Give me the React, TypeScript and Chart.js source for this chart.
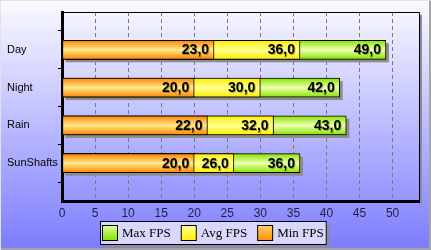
import React, { useEffect, useRef } from 'react';
import { Chart, registerables } from 'chart.js';

Chart.register(...registerables);

const categories = ['Day', 'Night', 'Rain', 'SunShafts'];
const maxFps = [49, 42, 43, 36];
const avgFps = [36, 30, 32, 26];
const minFps = [23, 20, 22, 20];
const seriesNames = ['Max FPS', 'Avg FPS', 'Min FPS'];
const xMin = 0;
const xMax = 54;
const xStep = 5;

const BAR = 19;

const barStops: [number, string][][] = [
  [[0, '#86e400'], [0.5, '#eeffb0'], [1, '#86e400']],
  [[0, '#ffee00'], [0.5, '#ffff90'], [1, '#ffee00']],
  [[0, '#ff8400'], [0.5, '#ffe98a'], [1, '#ff8400']],
];
const legendStops: [number, string][][] = [
  [[0, '#e4ff9a'], [1, '#7ee000']],
  [[0, '#ffff9a'], [1, '#ffee00']],
  [[0, '#ffd070'], [1, '#ff8c00']],
];

function fillFor(i: number) {
  return (c: any) => {
    const chart = c.chart;
    const ys = chart.scales && chart.scales.y;
    if (c.type !== 'data' || !ys) return barStops[i][1][1];
    const y = ys.getPixelForValue(c.dataIndex);
    if (!isFinite(y)) return barStops[i][1][1];
    const g = chart.ctx.createLinearGradient(0, y - BAR / 2, 0, y + BAR / 2);
    barStops[i].forEach(([o, col]) => g.addColorStop(o, col));
    return g;
  };
}

const fmt = (v: number) => v.toFixed(1).replace('.', ',');

const decorPlugin = {
  id: 'decor',
  beforeDatasetsDraw(chart: any) {
    const ctx = chart.ctx;
    const meta = chart.getDatasetMeta(0);
    ctx.save();
    ctx.fillStyle = '#8c8c8c';
    meta.data.forEach((el: any) => {
      if (!isFinite(el.x) || !isFinite(el.y)) return;
      ctx.fillRect(el.base + 3, el.y - el.height / 2 + 3, el.x - el.base, el.height);
    });
    ctx.restore();
  },
  afterDatasetsDraw(chart: any) {
    const ctx = chart.ctx;
    ctx.save();
    ctx.font = 'bold 14px "Liberation Sans", Arial, sans-serif';
    ctx.textAlign = 'right';
    ctx.textBaseline = 'middle';
    chart.data.datasets.forEach((ds: any, di: number) => {
      const meta = chart.getDatasetMeta(di);
      meta.data.forEach((el: any, idx: number) => {
        const v = ds.data[idx];
        if (v == null || !isFinite(el.x)) return;
        ctx.fillStyle = 'rgba(0,0,0,0.3)';
        ctx.fillText(fmt(v), el.x - 4, el.y + 1.5);
        ctx.fillStyle = '#000';
        ctx.fillText(fmt(v), el.x - 5, el.y + 0.5);
      });
    });
    ctx.restore();
  },
  afterDraw(chart: any) {
    const ctx = chart.ctx;
    const a = chart.chartArea;
    ctx.save();
    ctx.fillStyle = '#8a8a9a';
    ctx.fillRect(a.right + 1, a.top + 3, 2, a.bottom - a.top);
    ctx.strokeStyle = '#000';
    ctx.lineWidth = 1;
    ctx.beginPath();
    ctx.moveTo(a.left, a.top + 0.5);
    ctx.lineTo(a.right + 0.5, a.top + 0.5);
    ctx.lineTo(a.right + 0.5, a.bottom);
    ctx.stroke();

    // legend
    ctx.font = '13px "Liberation Serif", "Times New Roman", serif';
    const box = 16;
    const gapBoxText = 4;
    const gapItem = 10;
    const widths = seriesNames.map((n) => ctx.measureText(n).width);
    const total = widths.reduce((s, w) => s + box + gapBoxText + w, 0) + gapItem * (seriesNames.length - 1) + 5;
    const lx = Math.round(213 - total / 2);
    const ly = 221;
    const lh = 24;
    ctx.fillStyle = '#8a8aa6';
    ctx.fillRect(lx + 3, ly + 3, total, lh);
    ctx.fillStyle = '#d8d8fc';
    ctx.fillRect(lx, ly, total, lh);
    ctx.strokeStyle = '#000';
    ctx.strokeRect(lx + 0.5, ly + 0.5, total - 1, lh - 1);
    let x = lx + 2;
    seriesNames.forEach((n, i) => {
      const by = ly + 4;
      const g = ctx.createLinearGradient(0, by, 0, by + box);
      legendStops[i].forEach(([o, col]) => g.addColorStop(o, col));
      ctx.fillStyle = g;
      ctx.fillRect(x, by, box, box);
      ctx.strokeStyle = '#000';
      ctx.strokeRect(x + 0.5, by + 0.5, box - 1, box - 1);
      ctx.fillStyle = '#000';
      ctx.textAlign = 'left';
      ctx.textBaseline = 'middle';
      ctx.fillText(n, x + box + gapBoxText, by + box / 2 + 0.5);
      x += box + gapBoxText + widths[i] + gapItem;
    });
    ctx.restore();
  },
};

export default function App() {
  const ref = useRef<HTMLCanvasElement>(null);
  useEffect(() => {
    if (!ref.current) return;
    const yLabels = ['', ...categories, ''];
    const pad = (arr: number[]) => [null, ...arr, null];
    const seriesData = [maxFps, avgFps, minFps];
    const chart = new Chart(ref.current, {
      type: 'bar',
      data: {
        labels: yLabels,
        datasets: seriesNames.map((name, i) => ({
          label: name,
          data: pad(seriesData[i]) as any,
          backgroundColor: fillFor(i) as any,
          borderColor: '#000',
          borderWidth: 1,
          borderSkipped: false,
          barThickness: BAR,
          grouped: false,
          order: 3 - i,
        })),
      },
      options: {
        indexAxis: 'y',
        animation: false,
        responsive: false,
        layout: { padding: { top: 12, right: 12, left: 7, bottom: 0 } },
        plugins: { legend: { display: false }, tooltip: { enabled: false } },
        scales: {
          y: {
            type: 'category',
            offset: false,
            grid: {
              drawOnChartArea: false,
              drawTicks: true,
              tickLength: 4,
              color: (c: any) => (c.index === 0 ? 'rgba(0,0,0,0)' : '#000'),
            },
            border: { color: '#000', width: 3 },
            ticks: {
              color: '#000',
              autoSkip: false,
              padding: 3,
              crossAlign: 'far',
              font: { family: '"Liberation Sans", Arial, sans-serif', size: 11 },
            },
            afterFit: (s: any) => {
              s.width = 55;
            },
          },
          x: {
            type: 'linear',
            min: xMin,
            max: xMax,
            ticks: {
              stepSize: xStep,
              includeBounds: false,
              color: '#1e1e48',
              padding: 5,
              font: { family: '"Liberation Sans", Arial, sans-serif', size: 12 },
            },
            grid: {
              drawTicks: false,
              color: (c: any) => (c.index === 0 ? 'rgba(0,0,0,0)' : '#7a7a7a'),
            },
            border: { color: '#000', width: 3, dash: [4, 3] },
            afterFit: (s: any) => {
              s.height = 49;
            },
          },
        },
      } as any,
      plugins: [decorPlugin],
    });
    return () => chart.destroy();
  }, []);
  return (
    <div
      style={{
        position: 'fixed',
        left: 0,
        top: 0,
        width: 431,
        height: 250,
        background: 'linear-gradient(to bottom, #fbfbff 0%, #7c7cff 100%)',
        boxShadow: 'inset 1px 1px 0 #e2e2e2, inset -2px -2px 0 #a4a4a4',
      }}
    >
      <canvas ref={ref} width={431} height={250} style={{ display: 'block' }} />
    </div>
  );
}
